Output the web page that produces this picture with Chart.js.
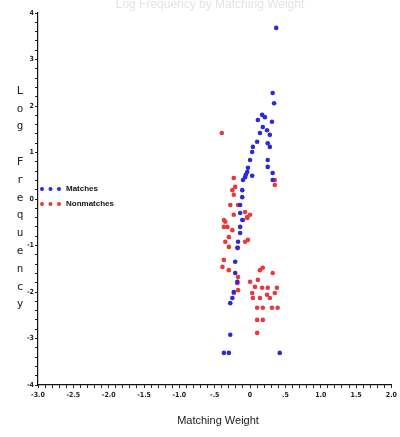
<!DOCTYPE html>
<html>
<head>
<meta charset="utf-8">
<script src="https://cdn.jsdelivr.net/npm/chart.js@4/dist/chart.umd.min.js"></script>
<style>
  html, body { margin: 0; padding: 0; background: #fff; }
  #wrap { width: 400px; height: 437px; }
</style>
</head>
<body>
<div id="wrap"><canvas id="chart" width="400" height="437"></canvas></div>
<script>
// series: [matching weight, log frequency]
var matchesX = [0.37, 0.32, 0.34, 0.31, 0.17, 0.21, 0.11, 0.18, 0.24, 0.28, 0.14, 0.10, 0.04, 0.03, 0.25, 0.28,
    0.00, 0.25, 0.25, -0.03, -0.04, -0.07, -0.10, 0.32, 0.32, -0.11, -0.11, -0.14, -0.14, -0.11, -0.14, -0.14,
    -0.17, -0.18, -0.21, -0.21, -0.18, -0.23, -0.25, -0.28, -0.28, -0.37, -0.30, 0.42, -0.06, 0.03];
var matchesY = [3.68, 2.28, 2.06, 1.66, 1.81, 1.76, 1.70, 1.55, 1.48, 1.38, 1.42, 1.23, 1.12, 1.01, 1.20, 1.12,
    0.84, 0.84, 0.69, 0.67, 0.58, 0.47, 0.41, 0.56, 0.41, 0.19, 0.04, -0.13, -0.30, -0.45, -0.60, -0.73,
    -0.92, -1.05, -1.35, -1.59, -1.78, -2.00, -2.13, -2.24, -2.92, -3.31, -3.31, -3.31, 0.52, 0.50];

var nonmatchesX = [-0.40, 0.35, 0.35, -0.23, -0.25, -0.23, -0.28, -0.23, -0.35, -0.37, -0.04, 0.00, -0.21, -0.17,
    -0.07, -0.10, -0.04, -0.37, -0.32, -0.25, -0.30, -0.35, -0.07, -0.03, -0.17, -0.30, -0.37, -0.39, -0.30,
    -0.17, -0.18, -0.17, -0.23, 0.14, 0.18, 0.32, 0.00, 0.07, 0.11, 0.03, 0.17, 0.25, 0.38, 0.04, 0.14, 0.24,
    0.28, 0.35, 0.10, 0.18, 0.31, 0.39, 0.10, 0.18, 0.10];
var nonmatchesY = [1.42, 0.41, 0.30, 0.45, 0.19, 0.09, -0.13, -0.34, -0.49, -0.60, -0.39, -0.34, 0.26, -0.13,
    -0.28, -0.45, -0.41, -0.45, -0.60, -0.67, -0.82, -0.92, -0.92, -0.88, -1.05, -1.03, -1.31, -1.46, -1.53,
    -1.68, -1.81, -1.96, -2.02, -1.53, -1.48, -1.59, -1.78, -1.89, -1.74, -2.02, -1.91, -1.91, -1.91, -2.13,
    -2.13, -2.06, -2.13, -2.02, -2.34, -2.34, -2.34, -2.34, -2.60, -2.60, -2.88];

var xTickValues = [-3, -2.5, -2, -1.5, -1, -0.5, 0, 0.5, 1, 1.5, 2];
var xTickLabels = ['-3.0', '-2.5', '-2.0', '-1.5', '-1.0', '-.5', '0', '.5', '1.0', '1.5', '2.0'];
var yTickValues = [-4, -3, -2, -1, 0, 1, 2, 3, 4];
var yTickLabels = ['-4', '-3', '-2', '-1', '0', '1', '2', '3', '4'];

var seriesNames = ['Matches', 'Nonmatches'];
var blue = '#2a2ad6';
var red = '#e8383a';

function toPoints(xs, ys) {
    var out = [];
    for (var i = 0; i < xs.length; i++) out.push({ x: xs[i], y: ys[i] });
    return out;
}

function lookup(vals, labels, v) {
    for (var i = 0; i < vals.length; i++) {
        if (Math.abs(vals[i] - v) < 1e-6) return labels[i];
    }
    return '';
}

var tickFont = { family: "'Liberation Sans Narrow', 'DejaVu Sans Condensed', sans-serif", size: 7, weight: 'bold' };

// stacked letters for the y title, legend and faint heading
var decor = {
    id: 'decor',
    afterDraw: function (chart) {
        var ctx = chart.ctx;
        var area = chart.chartArea;
        ctx.save();

        ctx.fillStyle = '#e4e4e4';
        ctx.font = "12px 'Liberation Sans Narrow', sans-serif";
        ctx.textAlign = 'center';
        ctx.textBaseline = 'middle';
        ctx.fillText('Log Frequency by Matching Weight', 210, 5);

        var word = 'Log Frequency';
        ctx.fillStyle = '#222';
        ctx.font = "11px 'DejaVu Sans Mono', monospace";
        for (var i = 0; i < word.length; i++) {
            ctx.fillText(word[i], 20, 91 + i * 17.8);
        }

        var colors = [blue, red];
        for (var k = 0; k < seriesNames.length; k++) {
            var ly = 189 + k * 15;
            ctx.fillStyle = colors[k];
            for (var d = 0; d < 3; d++) {
                ctx.beginPath();
                ctx.arc(area.left + 4 + d * 8.5, ly, 2, 0, Math.PI * 2);
                ctx.fill();
            }
            ctx.fillStyle = '#111';
            ctx.font = "bold 8px 'Liberation Sans Narrow', sans-serif";
            ctx.textAlign = 'left';
            ctx.fillText(seriesNames[k], area.left + 28, ly);
            ctx.textAlign = 'center';
        }

        ctx.fillStyle = '#1a1a1a';
        ctx.font = "11px 'Liberation Sans Narrow', sans-serif";
        ctx.fillText('Matching Weight', 218, 421);
        ctx.restore();
    }
};

var ctx = document.getElementById('chart').getContext('2d');
var chart = new Chart(ctx, {
    type: 'scatter',
    data: {
        datasets: [{
            label: seriesNames[0],
            data: toPoints(matchesX, matchesY),
            backgroundColor: blue,
            borderColor: blue,
            pointRadius: 2.3,
            borderWidth: 0
        }, {
            label: seriesNames[1],
            data: toPoints(nonmatchesX, nonmatchesY),
            backgroundColor: red,
            borderColor: red,
            pointRadius: 2.3,
            borderWidth: 0
        }]
    },
    options: {
        responsive: false,
        animation: false,
        layout: { padding: { top: 13, right: 4, left: 0, bottom: 0 } },
        plugins: {
            legend: { display: false },
            tooltip: { enabled: false }
        },
        scales: {
            x: {
                min: -3, max: 2,
                afterFit: function (s) { s.height = 52; },
                border: { color: '#111', width: 1.2 },
                grid: { drawOnChartArea: false, tickLength: 3, color: '#222' },
                ticks: {
                    stepSize: 0.1, autoSkip: false, maxRotation: 0, padding: 3,
                    color: '#222', font: tickFont,
                    callback: function (v) { return lookup(xTickValues, xTickLabels, Math.round(v * 10) / 10); }
                }
            },
            y: {
                min: -4, max: 4,
                afterFit: function (s) { s.width = 38; },
                border: { color: '#111', width: 1.2 },
                grid: { drawOnChartArea: false, tickLength: 3, color: '#222' },
                ticks: {
                    stepSize: 0.2, autoSkip: false, padding: 1,
                    color: '#222', font: tickFont,
                    callback: function (v) { return lookup(yTickValues, yTickLabels, Math.round(v * 10) / 10); }
                }
            }
        }
    },
    plugins: [decor]
});
</script>
</body>
</html>
